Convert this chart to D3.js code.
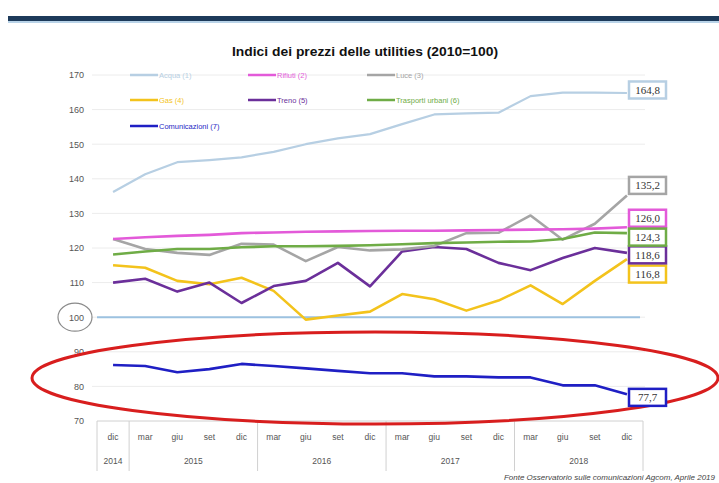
<!DOCTYPE html>
<html><head><meta charset="utf-8">
<script src="https://cdn.jsdelivr.net/npm/d3@7/dist/d3.min.js"></script>
<style>
html,body{margin:0;padding:0;background:#fff;}
svg{display:block;}
</style></head>
<body>
<svg id="chart" width="719" height="483"></svg>
<script>
// ---------- DATA ----------
const months = ["dic","mar","giu","set","dic","mar","giu","set","dic","mar","giu","set","dic","mar","giu","set","dic"];
const yearLabels = ["2014","2015","2016","2017","2018"];
const yearStart = [0,1,5,9,13];
const yearEnd   = [0,4,8,12,16];
const yTicks = [70,80,90,100,110,120,130,140,150,160,170];

const seriesNames = ["Acqua (1)","Rifiuti (2)","Luce (3)","Gas (4)","Treno (5)","Trasporti urbani (6)","Comunicazioni (7)"];
const acqua        = [136.2,141.3,144.8,145.4,146.2,147.8,150.0,151.7,152.9,155.8,158.6,158.9,159.1,163.9,164.9,164.9,164.8];
const rifiuti      = [122.6,123.1,123.5,123.8,124.3,124.5,124.7,124.8,124.9,125.0,125.0,125.1,125.2,125.3,125.4,125.6,126.0];
const luce         = [122.6,119.7,118.6,118.0,121.2,121.0,116.2,120.3,119.3,119.6,120.6,124.3,124.4,129.4,122.4,127.0,135.2];
const gas          = [115.0,114.3,110.5,109.5,111.4,107.6,99.3,100.5,101.6,106.7,105.2,101.9,104.8,109.2,103.8,110.5,116.8];
const treno        = [110.0,111.1,107.4,110.0,104.1,109.0,110.5,115.7,108.9,119.0,120.3,119.7,115.7,113.6,117.1,120.0,118.6];
const trasporti    = [118.1,119.0,119.7,119.7,120.2,120.5,120.5,120.6,120.8,121.1,121.4,121.6,121.8,121.9,122.6,124.5,124.3];
const comunicazioni= [86.2,85.9,84.1,85.0,86.5,85.9,85.2,84.5,83.8,83.8,82.9,82.9,82.6,82.6,80.3,80.3,77.7];
const lastLabels   = ["164,8","126,0","135,2","116,8","118,6","124,3","77,7"];
const baseline = 100;

// ---------- STYLE ----------
const colors = ["#b7cfe3","#e35ad9","#a5a5a5","#f3c31c","#6b2f9a","#6fac46","#1f1fc4"];
const widths = [2.2,2.6,2.6,2.6,2.6,2.6,2.6];
const labelShift = [-3,-9,-10,15,2,4,3];
const legendCol = [130,248,367];
const legendRow = [75,100,126];
const allSeries = [acqua,rifiuti,luce,gas,treno,trasporti,comunicazioni];
const drawOrder = [0,6,3,4,2,5,1];

const svg = d3.select("#chart");
const W = 719, H = 483;
const axisFont = "'Liberation Sans Narrow','Arial Narrow','Liberation Sans',Arial,sans-serif";

// top banner
svg.append("rect").attr("x",8).attr("y",16).attr("width",W-8).attr("height",5).attr("fill","#1d3a5a");
svg.append("rect").attr("x",8).attr("y",21).attr("width",W-8).attr("height",2).attr("fill","#b9d3e8");

// scales
const x = d3.scaleBand().domain(d3.range(months.length)).range([97,643]).padding(0);
const cx = i => x(i) + x.bandwidth()/2;
const y = d3.scaleLinear().domain([70,170]).range([421,75]);

// title
svg.append("text").attr("x",365).attr("y",56).attr("text-anchor","middle")
  .attr("font-family",axisFont).attr("font-weight","bold").attr("font-size",13)
  .attr("fill","#111").attr("textLength",266).attr("lengthAdjust","spacingAndGlyphs")
  .text("Indici dei prezzi delle utilities (2010=100)");

// gridlines
svg.append("g").selectAll("line").data(yTicks.filter(t=>t>70)).join("line")
  .attr("x1",92).attr("x2",645).attr("y1",d=>y(d)).attr("y2",d=>y(d))
  .attr("stroke","#ececec").attr("stroke-width",1);

// y axis labels via d3 axis
const yAxis = svg.append("g").attr("transform","translate(84,0)")
  .call(d3.axisLeft(y).tickValues(yTicks).tickSize(0).tickPadding(0).tickFormat(d3.format("d")));
yAxis.select(".domain").remove();
yAxis.selectAll("text").attr("font-family",axisFont).attr("font-size",9).attr("fill","#555");

// circle around 100
svg.append("ellipse").attr("cx",75).attr("cy",y(baseline)).attr("rx",17).attr("ry",14)
  .attr("fill","none").attr("stroke","#8a8a8a").attr("stroke-width",1.2);

// category axis box
const axG = svg.append("g");
axG.append("line").attr("x1",97).attr("x2",643).attr("y1",y(70)).attr("y2",y(70)).attr("stroke","#d0d0d0");
const seps = yearStart.map(s=>x(s)).concat([x(months.length-1)+x.bandwidth()]);
axG.selectAll("line.sep").data(seps).join("line").attr("class","sep")
  .attr("x1",d=>d).attr("x2",d=>d).attr("y1",y(70)).attr("y2",471).attr("stroke","#d0d0d0");
axG.selectAll("text.m").data(months).join("text").attr("class","m")
  .attr("x",(d,i)=>cx(i)).attr("y",440).attr("text-anchor","middle")
  .attr("font-family",axisFont).attr("font-size",8.5).attr("fill","#555").text(d=>d);
axG.selectAll("text.yr").data(yearLabels).join("text").attr("class","yr")
  .attr("x",(d,i)=>(cx(yearStart[i])+cx(yearEnd[i]))/2).attr("y",464).attr("text-anchor","middle")
  .attr("font-family",axisFont).attr("font-size",8.5).attr("fill","#555").text(d=>d);

// baseline 100
svg.append("line").attr("x1",97).attr("x2",640).attr("y1",y(baseline)).attr("y2",y(baseline))
  .attr("stroke","#9cc2e0").attr("stroke-width",2);

// lines
const line = d3.line().x((d,i)=>cx(i)).y(d=>y(d));
svg.append("g").selectAll("path").data(drawOrder).join("path")
  .attr("d",k=>line(allSeries[k])).attr("fill","none")
  .attr("stroke",k=>colors[k]).attr("stroke-width",k=>widths[k])
  .attr("stroke-linejoin","round");

// legend
const legend = svg.append("g");
seriesNames.forEach((name,k)=>{
  const lx = legendCol[k%3], ly = legendRow[Math.floor(k/3)];
  legend.append("line").attr("x1",lx).attr("x2",lx+28).attr("y1",ly).attr("y2",ly)
    .attr("stroke",colors[k]).attr("stroke-width",2.5);
  legend.append("text").attr("x",lx+29).attr("y",ly+2.5)
    .attr("font-family",axisFont).attr("font-size",7.5).attr("fill",colors[k]).text(name);
});

// red ellipse
svg.append("ellipse").attr("cx",375).attr("cy",378).attr("rx",343).attr("ry",46)
  .attr("fill","none").attr("stroke","#d81e1e").attr("stroke-width",3);

// end labels
const lastIdx = months.length-1;
const lab = svg.append("g");
allSeries.forEach((s,k)=>{
  const ly = y(s[lastIdx]) + labelShift[k];
  lab.append("rect").attr("x",629).attr("y",ly-8.5).attr("width",37).attr("height",17)
    .attr("fill","#fff").attr("stroke",colors[k]).attr("stroke-width",2.5);
  lab.append("text").attr("x",647.5).attr("y",ly+3.8).attr("text-anchor","middle")
    .attr("font-family","'Liberation Serif','Times New Roman',serif").attr("font-size",11)
    .attr("fill","#333").text(lastLabels[k]);
});

// source note
svg.append("text").attr("x",715).attr("y",480).attr("text-anchor","end")
  .attr("font-family",axisFont).attr("font-style","italic").attr("font-size",8)
  .attr("fill","#444").text("Fonte Osservatorio sulle comunicazioni Agcom, Aprile 2019");
</script>
</body></html>
